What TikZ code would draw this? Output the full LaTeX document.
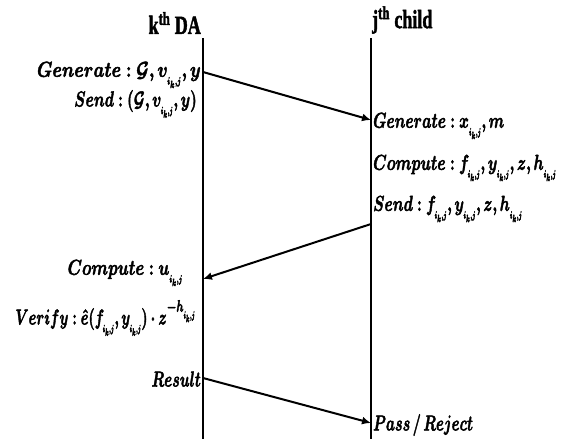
\documentclass[tikz,border=0pt]{standalone}
\usepackage{amsmath,bm,graphicx}
\usepackage[no-math]{fontspec}
\newfontfamily\hdrfont{Liberation Serif}
\usetikzlibrary{arrows.meta}
\newcommand{\sij}{_{\raisebox{-3pt}{\scalebox{0.75}[1]{$\scriptscriptstyle\bm{i_k,j}$}}}}
\newcommand{\fbold}{\special{pdf:literal 2 Tr 0.35 w}}
\newcommand{\mtx}[2][1]{\fbold\scalebox{#1}[1.5]{$\bm{#2}$}}
\newcommand{\htx}[1]{\fbold\scalebox{1}[1.45]{#1}}
\begin{document}
\begin{tikzpicture}[x=1pt,y=-1pt,
  lbl/.style={inner sep=0pt,font=\fontsize{15}{18}\selectfont},
  hdr/.style={inner sep=0pt,font=\fontsize{18}{20}\selectfont\hdrfont\bfseries},
  life/.style={line width=1.4pt},
  msg/.style={line width=2pt,-{Latex[length=9pt,width=8pt]}}]
\useasboundingbox (0,0) rectangle (562,439);
% headers
\node[hdr,anchor=east] (hk) at (201,23) {\htx{k\textsuperscript{th} DA}};
\node[hdr,anchor=west] (hj) at (372,20) {\htx{j\textsuperscript{th} child}};
% lifelines
\coordinate (kt) at (203,38); \coordinate (kb) at (203,439);
\coordinate (jt) at (371,38); \coordinate (jb) at (371,439);
\draw[life] (kt) -- (kb);
\draw[life] (jt) -- (jb);
% message endpoints
\coordinate (a1) at (203,72);  \coordinate (b1) at (371,120);
\coordinate (a2) at (371,224); \coordinate (b2) at (203,279);
\coordinate (a3) at (203,378); \coordinate (b3) at (371,423);
\draw[msg] (a1) -- (b1);
\draw[msg] (a2) -- (b2);
\draw[msg] (a3) -- (b3);
% left texts
\node[lbl,anchor=east] (t1) at (201,75) {\mtx[1.2]{Generate:\mathcal{G},v\sij,y}};
\node[lbl,anchor=east] (t2) at (197,104) {\mtx[1.05]{Send:(\mathcal{G},v\sij,y)}};
\node[lbl,anchor=east] (t6) at (183,273) {\mtx[1.12]{Compute:u\sij}};
\node[lbl,anchor=east] (t7) at (196,318) {\mtx[0.98]{Verify:\hat{e}(f\sij,y\sij)\cdot z^{-h\sij}}};
\node[lbl,anchor=east] (t8) at (201,379) {\mtx{Result}};
% right texts
\node[lbl,anchor=west] (t3) at (373,126) {\mtx[1.04]{Generate:x\sij,m}};
\node[lbl,anchor=west] (t4) at (373,168) {\mtx[1.06]{Compute:f\sij,y\sij,z,h\sij}};
\node[lbl,anchor=west] (t5) at (373,209) {\mtx[1.05]{Send:f\sij,y\sij,z,h\sij}};
\node[lbl,anchor=west] (t9) at (373,425) {\mtx{Pass\,/\,Reject}};
\end{tikzpicture}
\end{document}
